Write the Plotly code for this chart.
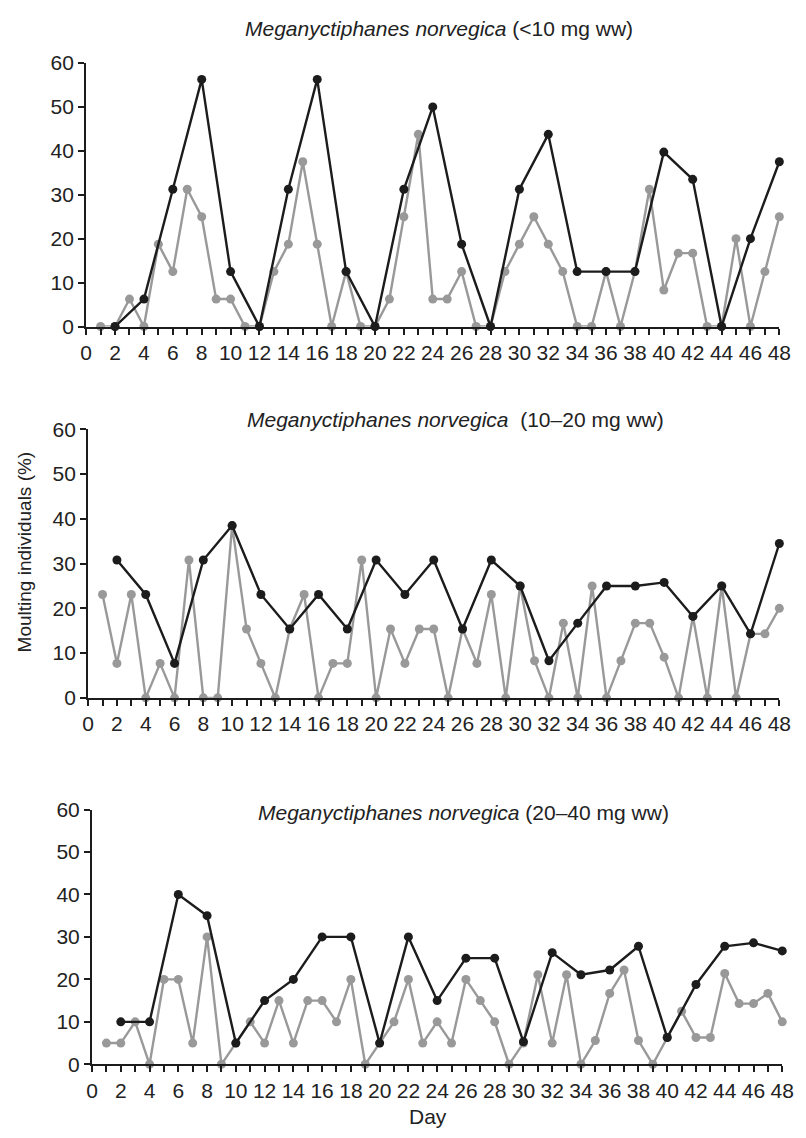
import plotly.graph_objects as go

days = list(range(1, 49))
even_days = list(range(2, 49, 2))

# Panel 1: <10 mg ww
p1_black = [0, 6.25, 31.25, 56.25, 12.5, 0, 31.25, 56.25, 12.5, 0, 31.25, 50,
            18.75, 0, 31.25, 43.75, 12.5, 12.5, 12.5, 39.7, 33.5, 0, 20, 37.5]
p1_gray = [0, 0, 6.25, 0, 18.75, 12.5, 31.25, 25, 6.25, 6.25, 0, 0,
           12.5, 18.75, 37.5, 18.75, 0, 12.5, 0, 0, 6.25, 25, 43.75, 6.25,
           6.25, 12.5, 0, 0, 12.5, 18.75, 25, 18.75, 12.5, 0, 0, 12.5,
           0, 12.5, 31.25, 8.3, 16.7, 16.7, 0, 0, 20, 0, 12.5, 25]

# Panel 2: 10-20 mg ww
p2_black = [30.8, 23.1, 7.7, 30.8, 38.5, 23.1, 15.4, 23.1, 15.4, 30.8, 23.1, 30.8,
            15.4, 30.8, 25, 8.3, 16.7, 25, 25, 25.8, 18.2, 25, 14.3, 34.5]
p2_gray = [23.1, 7.7, 23.1, 0, 7.7, 0, 30.8, 0, 0, 38.5, 15.4, 7.7,
           0, 15.4, 23.1, 0, 7.7, 7.7, 30.8, 0, 15.4, 7.7, 15.4, 15.4,
           0, 15.4, 7.7, 23.1, 0, 25, 8.3, 0, 16.7, 0, 25, 0,
           8.3, 16.7, 16.7, 9.1, 0, 18.2, 0, 25, 0, 14.3, 14.3, 20]

# Panel 3: 20-40 mg ww
p3_black = [10, 10, 40, 35, 5, 15, 20, 30, 30, 5, 30, 15,
            25, 25, 5.3, 26.3, 21.1, 22.2, 27.8, 6.3, 18.8, 27.8, 28.6, 26.7]
p3_gray = [5, 5, 10, 0, 20, 20, 5, 30, 0, 5, 10, 5,
           15, 5, 15, 15, 10, 20, 0, 5, 10, 20, 5, 10,
           5, 20, 15, 10, 0, 5, 21.1, 5, 21.1, 0, 5.6, 16.7,
           22.2, 5.6, 0, 6.3, 12.5, 6.3, 6.3, 21.4, 14.3, 14.3, 16.7, 10]

titles = ["<i>Meganyctiphanes norvegica</i> (<10 mg ww)",
          "<i>Meganyctiphanes norvegica</i>  (10\u201320 mg ww)",
          "<i>Meganyctiphanes norvegica</i> (20\u201340 mg ww)"]
y_ticks = [0, 10, 20, 30, 40, 50, 60]
x_label = "Day"
y_label = "Moulting individuals (%)"

W, H = 806, 1138
BLACK = "#1c1c1c"
GRAY = "#999999"
TXT = "#222222"
FONT = "Liberation Sans, Arial, sans-serif"

# pixel boxes of plot areas: (left, right, top, bottom)
boxes = [(82, 791, 52, 321), (84, 791, 426, 700), (88, 794, 814, 1074)]
title_pos = [(443, 17), (460, 416), (468, 817)]

fig = go.Figure()
panels = [(p1_black, p1_gray), (p2_black, p2_gray), (p3_black, p3_gray)]
for i, (blk, gry) in enumerate(panels):
    sfx = "" if i == 0 else str(i + 1)
    fig.add_trace(go.Scatter(x=days, y=gry, mode="lines+markers",
                             line=dict(color=GRAY, width=2.4),
                             marker=dict(color=GRAY, size=9, symbol="circle"),
                             cliponaxis=False, showlegend=False,
                             xaxis="x" + sfx, yaxis="y" + sfx))
    fig.add_trace(go.Scatter(x=even_days, y=blk, mode="lines+markers",
                             line=dict(color=BLACK, width=2.4),
                             marker=dict(color=BLACK, size=9, symbol="circle"),
                             cliponaxis=False, showlegend=False,
                             xaxis="x" + sfx, yaxis="y" + sfx))

layout = dict(width=W, height=H, margin=dict(l=0, r=0, t=0, b=0),
              paper_bgcolor="white", plot_bgcolor="white",
              font=dict(family=FONT, size=21, color=TXT))
annotations = []
for i, (l, r, t, b) in enumerate(boxes):
    sfx = "" if i == 0 else str(i + 1)
    xa = dict(domain=[l / W, r / W], range=[0, 48], anchor="y" + sfx,
              tickmode="array", tickvals=list(range(0, 49, 2)),
              ticks="outside", ticklen=6, tickwidth=1.8, tickcolor=BLACK,
              showline=True, linecolor=BLACK, linewidth=2.2,
              showgrid=False, zeroline=False,
              tickfont=dict(size=21, color=TXT),
              minor=dict(dtick=1, tick0=0, ticks="outside", ticklen=6,
                         tickwidth=1.8, tickcolor=BLACK, showgrid=False))
    ya = dict(domain=[1 - b / H, 1 - t / H], range=[0, 60], anchor="x" + sfx,
              tickmode="array", tickvals=y_ticks,
              ticks="outside", ticklen=6, tickwidth=1.8, tickcolor=BLACK,
              showline=True, linecolor=BLACK, linewidth=2.2,
              showgrid=False, zeroline=False,
              tickfont=dict(size=21, color=TXT))
    layout["xaxis" + sfx] = xa
    layout["yaxis" + sfx] = ya
    tx, ty = title_pos[i]
    annotations.append(dict(text=titles[i], x=tx / W, y=1 - ty / H,
                            xref="paper", yref="paper", showarrow=False,
                            xanchor="center", yanchor="middle",
                            font=dict(size=21, color=TXT)))

annotations.append(dict(text=y_label, x=19 / W, y=1 - 551 / H, xref="paper",
                        yref="paper", showarrow=False, textangle=-90,
                        xanchor="center", yanchor="middle",
                        font=dict(size=19, color=TXT)))
annotations.append(dict(text=x_label, x=432 / W, y=1 - 1127 / H, xref="paper",
                        yref="paper", showarrow=False,
                        xanchor="center", yanchor="middle",
                        font=dict(size=21, color=TXT)))
layout["annotations"] = annotations
fig.update_layout(**layout)
fig.write_html("out.html")
